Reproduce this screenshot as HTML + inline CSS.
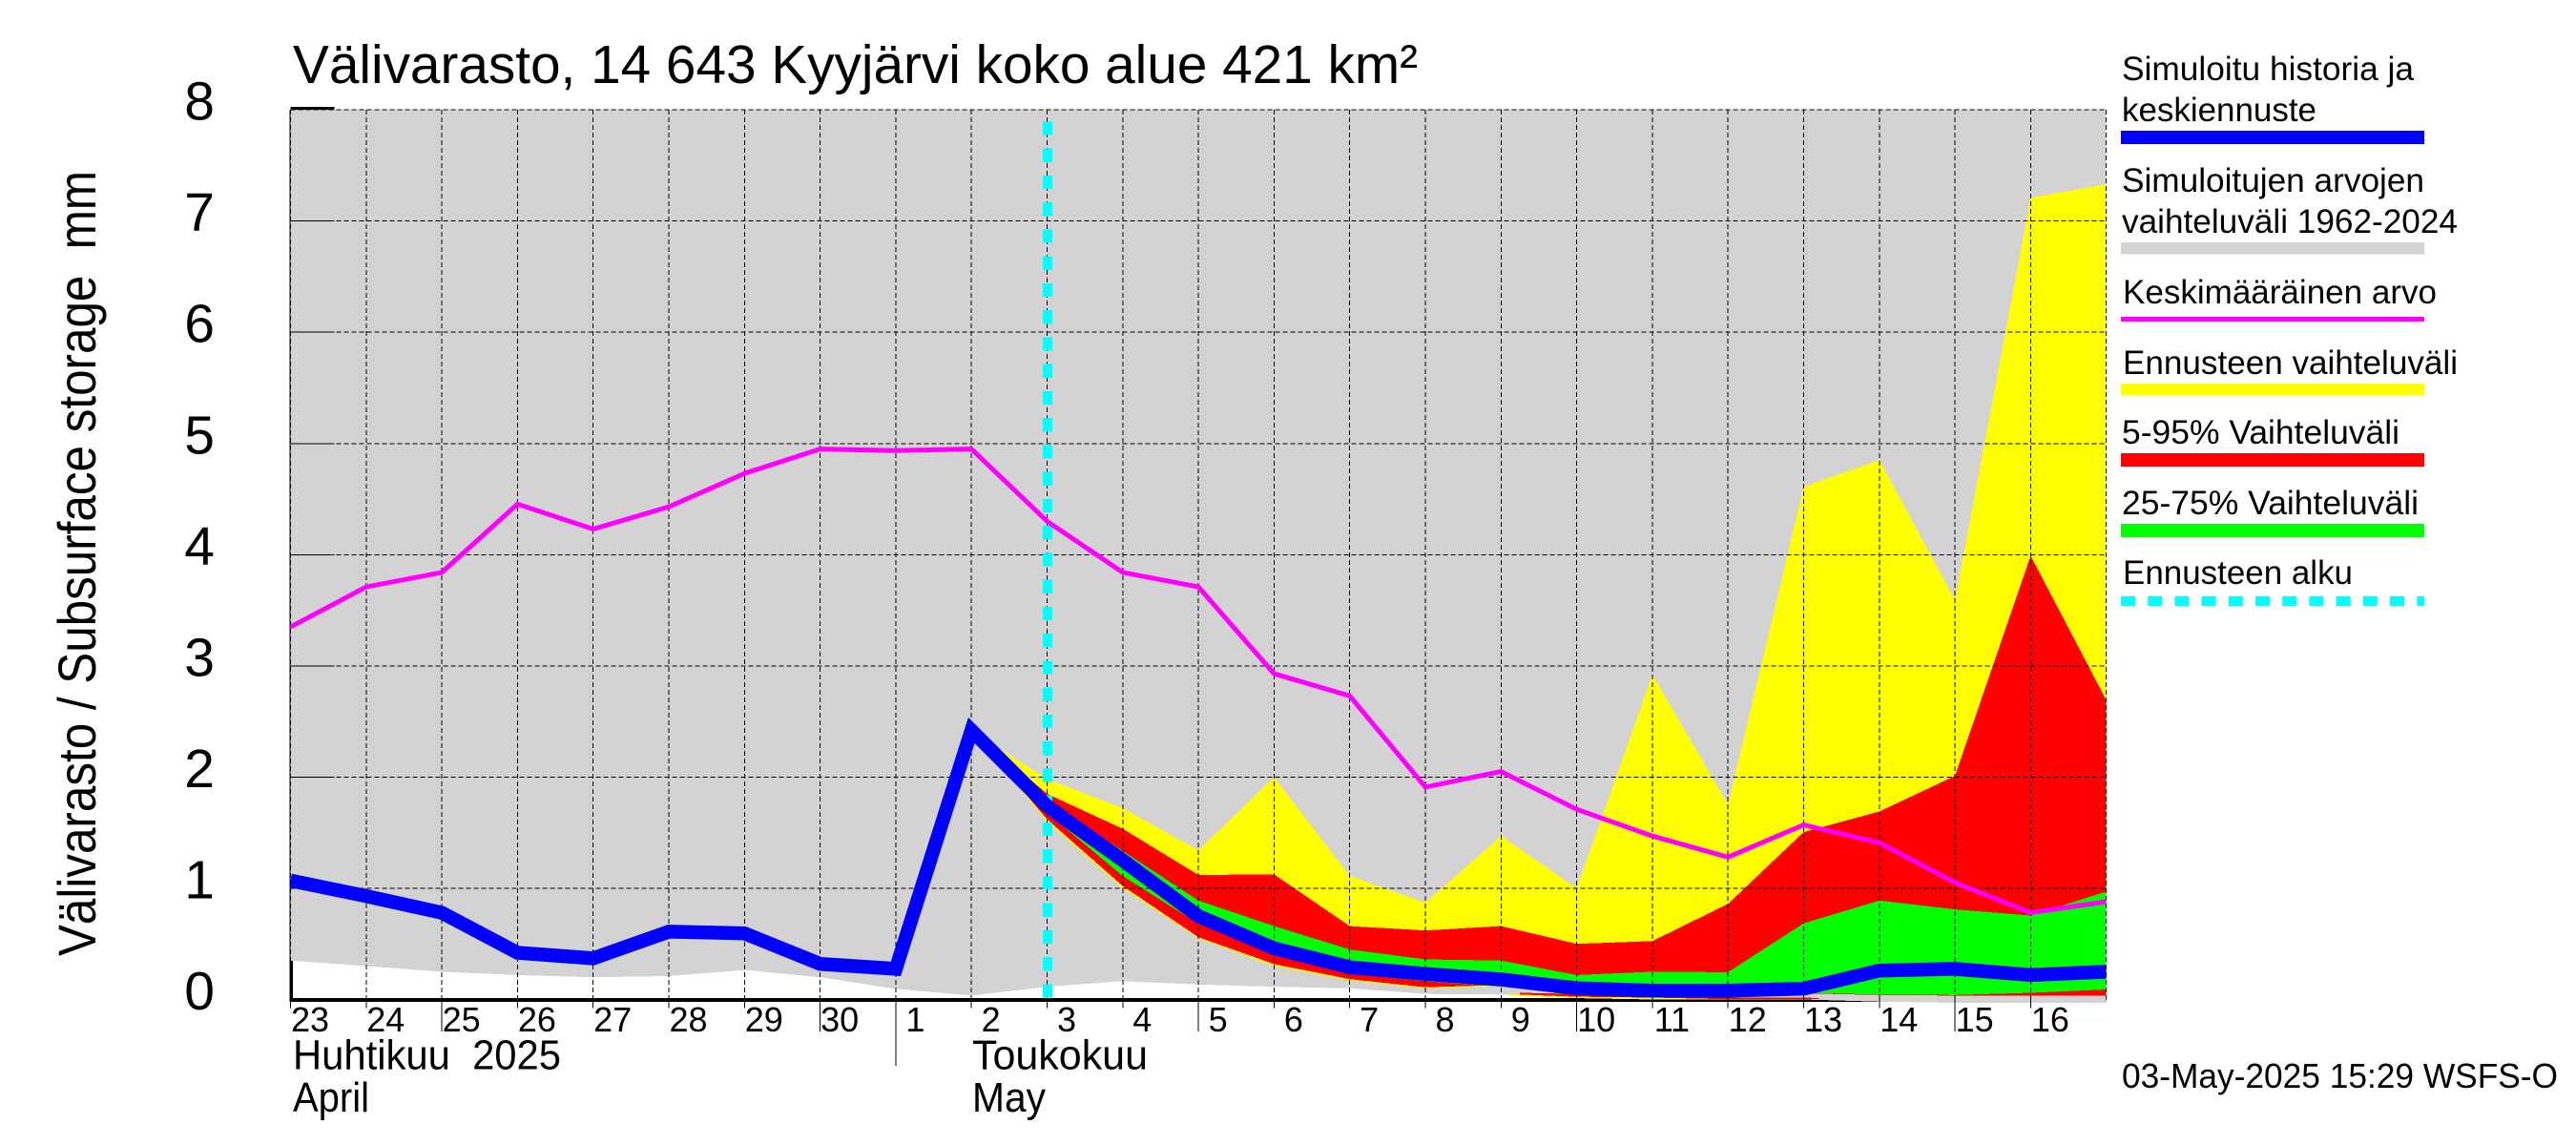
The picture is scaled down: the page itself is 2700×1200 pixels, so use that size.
<!DOCTYPE html>
<html lang="fi">
<head>
<meta charset="utf-8">
<title>Välivarasto, 14 643 Kyyjärvi koko alue 421 km²</title>
<style>
html,body{margin:0;padding:0;background:#fff;width:2700px;height:1200px;overflow:hidden}
svg{display:block}
text{font-family:"Liberation Sans",sans-serif;fill:#000}
</style>
</head>
<body>
<svg id="chart" xmlns="http://www.w3.org/2000/svg" width="2700" height="1200" viewBox="0 0 2700 1200">
  <defs><clipPath id="plot-clip"><rect x="304.5" y="100" width="1903.2" height="960"/></clipPath></defs>
  <rect x="0" y="0" width="2700" height="1200" fill="#fff"/>
  <g id="plot"></g>
  <text x="307" y="87" font-size="57" textLength="1179" lengthAdjust="spacingAndGlyphs">Välivarasto, 14 643 Kyyjärvi koko alue 421 km²</text>
  <text transform="translate(100,1002) rotate(-90)" font-size="56" textLength="823" lengthAdjust="spacingAndGlyphs" xml:space="preserve">Välivarasto / Subsurface storage  mm</text>
  <text x="307" y="1120.5" font-size="43.5" textLength="281" lengthAdjust="spacingAndGlyphs" xml:space="preserve">Huhtikuu  2025</text>
  <text x="307" y="1165" font-size="43.5" textLength="80" lengthAdjust="spacingAndGlyphs">April</text>
  <text x="1019" y="1120.5" font-size="43.5" textLength="184" lengthAdjust="spacingAndGlyphs">Toukokuu</text>
  <text x="1019" y="1165" font-size="43.5" textLength="77" lengthAdjust="spacingAndGlyphs">May</text>
  <text x="2224" y="1140" font-size="36" textLength="457" lengthAdjust="spacingAndGlyphs">03-May-2025 15:29 WSFS-O</text>

  <g font-size="35">
    <text x="2224" y="84" textLength="306" lengthAdjust="spacingAndGlyphs">Simuloitu historia ja</text>
    <text x="2224" y="127" textLength="204" lengthAdjust="spacingAndGlyphs">keskiennuste</text>
    <rect x="2223" y="137" width="318" height="14" fill="#0000ff"/>
    <text x="2224" y="201" textLength="317" lengthAdjust="spacingAndGlyphs">Simuloitujen arvojen</text>
    <text x="2224" y="244" textLength="352" lengthAdjust="spacingAndGlyphs">vaihteluväli 1962-2024</text>
    <rect x="2223" y="254" width="318" height="12.5" fill="#d3d3d3"/>
    <text x="2225" y="318" textLength="329" lengthAdjust="spacingAndGlyphs">Keskimääräinen arvo</text>
    <rect x="2223" y="332" width="318" height="5" fill="#ff00ff"/>
    <text x="2225" y="392" textLength="351" lengthAdjust="spacingAndGlyphs">Ennusteen vaihteluväli</text>
    <rect x="2223" y="402" width="318" height="12.5" fill="#ffff00"/>
    <text x="2224" y="465" textLength="291" lengthAdjust="spacingAndGlyphs">5-95% Vaihteluväli</text>
    <rect x="2223" y="475" width="318" height="14" fill="#ff0000"/>
    <text x="2224" y="539" textLength="311" lengthAdjust="spacingAndGlyphs">25-75% Vaihteluväli</text>
    <rect x="2223" y="549" width="318" height="14" fill="#00ff00"/>
    <text x="2225" y="612" textLength="241" lengthAdjust="spacingAndGlyphs">Ennusteen alku</text>
    <line x1="2223" y1="630" x2="2541" y2="630" stroke="#00ffff" stroke-width="10" stroke-dasharray="15 13.2"/>
  </g>
</svg>
<script>
// Day labels along the x axis (23 April .. 16 May)
const dayLabels = ["23","24","25","26","27","28","29","30","1","2","3","4","5","6","7","8","9","10","11","12","13","14","15","16"];
const yTickLabels = ["0","1","2","3","4","5","6","7","8"];
const longTickDays = ["25","30","5","10","15"];
const monthStartDay = "1";
const forecastStartDay = "3";

// Historical simulated range 1962-2024 (one value per day plus the end of the axis)
const historyHigh = [8,8,8,8,8,8,8,8,8,8,8,8,8,8,8,8,8,8,8,8,8,8,8,8,8];
const historyLow = [0.35,0.30,0.25,0.22,0.20,0.21,0.265,0.20,0.095,0.035,0.115,0.165,0.135,0.115,0.10,0.05,0.045,0.015,0.01,0.005,0,-0.02,-0.03,-0.03,-0.03];

// Simulated history and mean forecast
const simulated = [1.07,0.93,0.78,0.42,0.37,0.61,0.595,0.32,0.275,2.42,1.74,1.25,0.75,0.46,0.29,0.23,0.18,0.10,0.08,0.08,0.097,0.26,0.275,0.22,0.25];
// Long-term mean
const meanValues = [3.35,3.71,3.84,4.455,4.23,4.43,4.73,4.95,4.935,4.95,4.30,3.84,3.71,2.93,2.73,1.91,2.05,1.71,1.47,1.28,1.57,1.41,1.05,0.78,0.88];

// Forecast bands: values start at the day index in forecastFirstIndex
const forecastFirstIndex = 9;
const forecastTop = [2.42,1.98,1.72,1.34,2.0,1.11,0.87,1.47,1.0,2.92,1.75,4.61,4.85,3.59,7.21,7.33];
const forecastBottom = [2.42,1.60,1.0,0.55,0.30,0.17,0.10,0.12,0.09,0.08,0.08,0.055,0.04,0.035,0.035,0.035];
const p95 = [2.42,1.85,1.535,1.12,1.125,0.66,0.62,0.66,0.50,0.525,0.86,1.505,1.69,2.01,3.99,2.69];
const p05 = [2.42,1.62,1.02,0.56,0.318,0.183,0.11,0.13,0.09,0.08,0.08,0.055,0.04,0.035,0.035,0.035];
const p75 = [2.42,1.79,1.335,0.89,0.66,0.45,0.36,0.35,0.22,0.25,0.245,0.685,0.89,0.81,0.755,0.97];
const p25 = [2.42,1.68,1.11,0.68,0.415,0.23,0.165,0.115,0.09,0.08,0.08,0.06,0.045,0.04,0.06,0.09];

// Small low-end ensemble slivers close to the zero line
const sliverYellowDays = [16.1,17,18,19,20];
const sliverYellowTop = [0.05,0.03,0.02,0.01,0.005];
const sliverYellowBottom = [0.035,0.012,0.0,0.0,0.0];
const sliverRedDays = [16.25,17,18,19,20.2];
const sliverRedTop = [0.06,0.05,0.035,0.02,0.015];
const sliverRedBottom = [0.045,0.025,0.017,0.003,0.005];
const sliverGreenDays = [16.7,17,17.5,18.5,19.3];
const sliverGreenTop = [0.07,0.07,0.06,0.04,0.03];
const sliverGreenBottom = [0.05,0.05,0.04,0.02,0.02];

const SVG_NS = "http://www.w3.org/2000/svg";
const plot = document.getElementById("plot");
const X0 = 304.5, X_STEP = 79.3, Y0 = 1047.5, Y_UNIT = 116.55;
const xAxis = function (i) { return X0 + X_STEP * i; };
const yAxis = function (v) { return Y0 - Y_UNIT * v; };
const lastIndex = dayLabels.length;

function make(tag, attrs, parent) {
  const el = document.createElementNS(SVG_NS, tag);
  for (const k in attrs) el.setAttribute(k, attrs[k]);
  (parent || plot).appendChild(el);
  return el;
}
function bandPoints(days, top, bottom) {
  const up = top.map(function (v, i) { return xAxis(days[i]).toFixed(1) + "," + yAxis(v).toFixed(1); });
  const down = bottom.map(function (v, i) { return xAxis(days[i]).toFixed(1) + "," + yAxis(v).toFixed(1); }).reverse();
  return up.concat(down).join(" ");
}
function linePoints(days, values) {
  return values.map(function (v, i) { return xAxis(days[i]).toFixed(1) + "," + yAxis(v).toFixed(1); }).join(" ");
}
const allDays = historyLow.map(function (_, i) { return i; });
const forecastDays = forecastTop.map(function (_, i) { return forecastFirstIndex + i; });

// Axis lines lie under the filled ranges
const axisBottom = make("rect", {x: xAxis(0) - 1, y: yAxis(0) - 1.5, width: xAxis(lastIndex) - xAxis(0) + 1, height: 4, fill: "#000"});


const axisLeft = make("rect", {x: xAxis(0) - 1, y: yAxis(8) , width: 3.5, height: yAxis(0) - yAxis(8) + 2, fill: "#000"});



const historyBand = make("polygon", {points: bandPoints(allDays, historyHigh, historyLow), fill: "#d3d3d3", "shape-rendering": "crispEdges"});



const forecastBand = make("polygon", {points: bandPoints(forecastDays, forecastTop, forecastBottom), fill: "#ffff00", "shape-rendering": "crispEdges"});


const band595 = make("polygon", {points: bandPoints(forecastDays, p95, p05), fill: "#ff0000", "shape-rendering": "crispEdges"});


const band2575 = make("polygon", {points: bandPoints(forecastDays, p75, p25), fill: "#00ff00", "shape-rendering": "crispEdges"});



const sliverY = make("polygon", {points: bandPoints(sliverYellowDays, sliverYellowTop, sliverYellowBottom), fill: "#ffff00", "shape-rendering": "crispEdges"});


const sliverR = make("polygon", {points: bandPoints(sliverRedDays, sliverRedTop, sliverRedBottom), fill: "#ff0000", "shape-rendering": "crispEdges"});


const sliverG = make("polygon", {points: bandPoints(sliverGreenDays, sliverGreenTop, sliverGreenBottom), fill: "#00ff00", "shape-rendering": "crispEdges"});



// Horizontal grid, y ticks, y tick labels
yTickLabels.forEach(function (label) {
  const v = Number(label), y = yAxis(v);
  if (v > 0) {
    const grid = make("line", {x1: xAxis(0), x2: xAxis(lastIndex), y1: y, y2: y, stroke: "#000", "stroke-width": 1, "stroke-dasharray": "5 3", "shape-rendering": "crispEdges"});
    
    
    const tick = make("line", {x1: xAxis(0), x2: xAxis(0) + 46, y1: v === 8 ? y - 1.5 : y, y2: v === 8 ? y - 1.5 : y, stroke: "#000", "stroke-width": v === 8 ? 3 : 1, "shape-rendering": "crispEdges"});
    
    
  }
  const t = make("text", {x: 225, y: y + 10.5, "font-size": 57, "text-anchor": "end"});
  
  
  t.textContent = label;
});

// Vertical grid, x ticks, x tick labels
dayLabels.forEach(function (label, i) {
  const x = xAxis(i);
  const grid = make("line", {x1: x, x2: x, y1: yAxis(8), y2: yAxis(0), stroke: "#000", "stroke-width": 1, "stroke-dasharray": "5 3", "shape-rendering": "crispEdges"});
  
  
  let tickEnd = 1056.5;
  if (longTickDays.indexOf(label) >= 0) tickEnd = 1081;
  if (label === monthStartDay) tickEnd = 1117;
  const tick = make("line", {x1: x, x2: x, y1: yAxis(0), y2: tickEnd, stroke: "#000", "stroke-width": 1, "shape-rendering": "crispEdges"});
  
  
  const t = make("text", {x: x + 20.5, y: 1081, "font-size": 36, "text-anchor": "middle"});
  
  
  t.textContent = label;
});
const rightEdge = make("line", {x1: xAxis(lastIndex), x2: xAxis(lastIndex), y1: yAxis(8), y2: yAxis(0), stroke: "#000", "stroke-width": 1, "stroke-dasharray": "5 3", "shape-rendering": "crispEdges"});



// Forecast start marker
const startX = xAxis(dayLabels.indexOf(forecastStartDay)) + 0.5;
const startLine = make("line", {x1: startX, x2: startX, y1: 127.3, y2: 1048, stroke: "#00ffff", "stroke-width": 10, "stroke-dasharray": "14.4 13.85", "shape-rendering": "crispEdges"});



// Series lines
const meanLine = make("polyline", {points: linePoints(allDays, meanValues), fill: "none", stroke: "#ff00ff", "stroke-width": 5, "stroke-linejoin": "miter", "clip-path": "url(#plot-clip)"});


const simLine = make("polyline", {points: linePoints(allDays, simulated), fill: "none", stroke: "#0000ff", "stroke-width": 14.5, "stroke-linejoin": "miter", "stroke-miterlimit": 4, "clip-path": "url(#plot-clip)"});


</script>
</body>
</html>
